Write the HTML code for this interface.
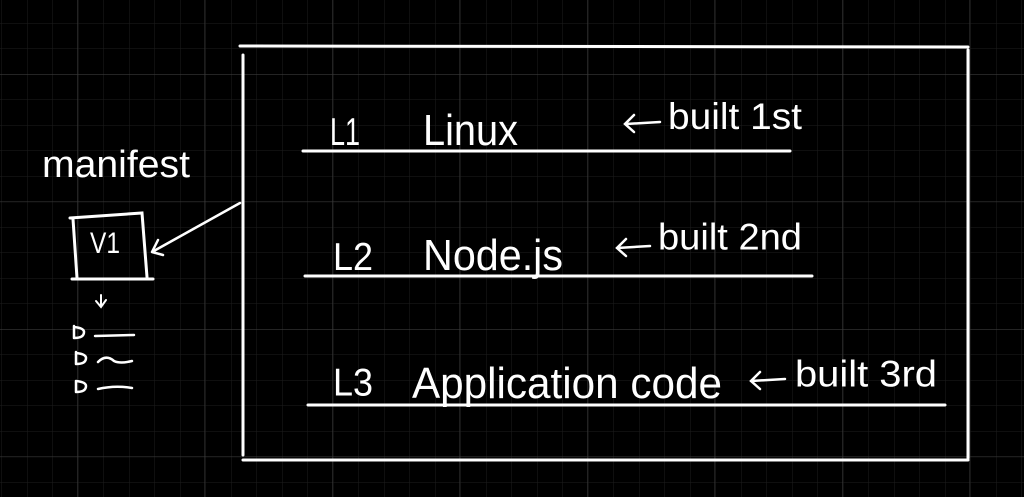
<!DOCTYPE html>
<html><head><meta charset="utf-8"><style>
html,body{margin:0;padding:0;background:#000;}
svg{display:block}
text{fill:#fff;font-family:"Liberation Sans Narrow","Liberation Sans",sans-serif;}
</style></head><body>
<svg width="1024" height="497" viewBox="0 0 1024 497" xmlns="http://www.w3.org/2000/svg">
<defs>
<pattern id="minor" width="25.5" height="25.5" patternUnits="userSpaceOnUse" x="1.5" y="-2.5">
<path d="M0 0H25.5M0 0V25.5" stroke="#1e1e1e" stroke-width="1" fill="none"/>
</pattern>
<pattern id="major" width="127.5" height="127.5" patternUnits="userSpaceOnUse" x="77" y="74">
<path d="M0 0H127.5M0 0V127.5" stroke="#3a3a3a" stroke-width="1.2" fill="none"/>
</pattern>
</defs>
<rect width="1024" height="497" fill="#000"/>
<rect width="1024" height="497" fill="url(#minor)"/>
<rect width="1024" height="497" fill="url(#major)"/>
<g stroke="#fff" stroke-width="3" fill="none" stroke-linecap="round">
<path d="M240 46 L968 47"/>
<path d="M243 55 L243 455"/>
<path d="M243 460 L968 460"/>
<path d="M968 50 L968 458"/>
<path d="M303 151 L790 151"/>
<path d="M305 276 L812 276"/>
<path d="M308 405 L945 405"/>
<path d="M70 218 L142 213 L147 277 M73 219 L77 278 M72 279 L153 279"/>
<path d="M240 203 L152 252 M152 252 L158 240 M152 252 L163 255" stroke-width="2.5"/>
<path d="M101 295 L101 307 M96 301 L101 307 L106 300" stroke-width="2"/>
<path d="M74 326 L74 338 M74 327 Q84 328 84 332 Q84 338 74 338 M95 336 L134 335" stroke-width="2.5"/>
<path d="M76 352 L76 364 M76 353 Q86 354 86 358 Q86 364 76 364 M98 362 Q106 354 114 361 Q120 364 132 361" stroke-width="2.5"/>
<path d="M76 381 L76 392 M76 381 Q86 382 86 386 Q86 392 76 392 M98 389 Q115 385 132 388" stroke-width="2.5"/>
<!-- left arrows -->
<path d="M626 124 L660 122 M634 115 L625 124 L634 132" stroke-width="2.5"/>
<path d="M617 248 L650 246 M626 239 L617 248 L626 256" stroke-width="2.5"/>
<path d="M751 381 L785 379 M760 372 L751 381 L760 389" stroke-width="2.5"/>
</g>
<g transform="scale(1,1.15)">
<text x="42" y="154" font-size="33" textLength="148" lengthAdjust="spacingAndGlyphs">manifest</text>
<text x="90" y="220" font-size="26" textLength="30" lengthAdjust="spacingAndGlyphs">V1</text>
<text x="330" y="126" font-size="34" textLength="30" lengthAdjust="spacingAndGlyphs">L1</text>
<text x="423" y="126" font-size="38" textLength="95" lengthAdjust="spacingAndGlyphs">Linux</text>
<text x="668" y="112" font-size="32" textLength="134" lengthAdjust="spacingAndGlyphs">built 1st</text>
<text x="333" y="235" font-size="34" textLength="40" lengthAdjust="spacingAndGlyphs">L2</text>
<text x="423" y="235" font-size="38" textLength="140" lengthAdjust="spacingAndGlyphs">Node.js</text>
<text x="658" y="217" font-size="32" textLength="144" lengthAdjust="spacingAndGlyphs">built 2nd</text>
<text x="333" y="344" font-size="34" textLength="40" lengthAdjust="spacingAndGlyphs">L3</text>
<text x="412" y="346" font-size="38" textLength="310" lengthAdjust="spacingAndGlyphs">Application code</text>
<text x="795" y="336" font-size="32" textLength="142" lengthAdjust="spacingAndGlyphs">built 3rd</text>
</g>
</svg>
</body></html>
